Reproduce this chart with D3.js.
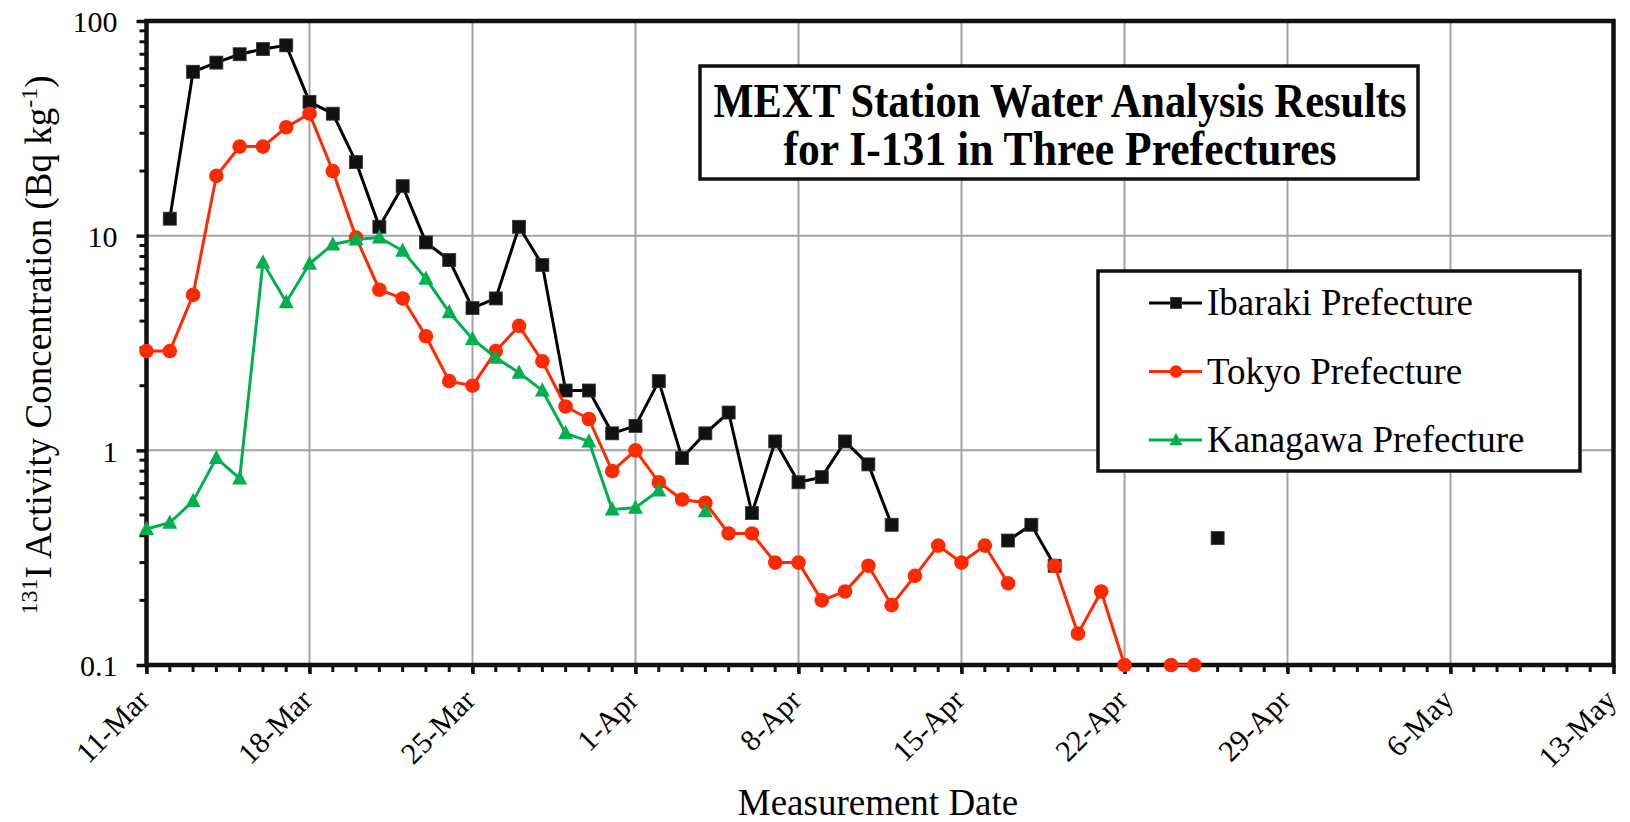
<!DOCTYPE html>
<html>
<head>
<meta charset="utf-8">
<script src="https://cdn.jsdelivr.net/npm/d3@7"></script>
<style>
  body { margin: 0; background: #fff; }
  svg { display: block; font-family: "Liberation Serif", "Times New Roman", serif; }
</style>
</head>
<body>
<div id="chart"></div>
<script>
// measurement days, 11-Mar .. 26-Apr 2011
var days = [
  "2011-03-11","2011-03-12","2011-03-13","2011-03-14","2011-03-15","2011-03-16","2011-03-17",
  "2011-03-18","2011-03-19","2011-03-20","2011-03-21","2011-03-22","2011-03-23","2011-03-24",
  "2011-03-25","2011-03-26","2011-03-27","2011-03-28","2011-03-29","2011-03-30","2011-03-31",
  "2011-04-01","2011-04-02","2011-04-03","2011-04-04","2011-04-05","2011-04-06","2011-04-07",
  "2011-04-08","2011-04-09","2011-04-10","2011-04-11","2011-04-12","2011-04-13","2011-04-14",
  "2011-04-15","2011-04-16","2011-04-17","2011-04-18","2011-04-19","2011-04-20","2011-04-21",
  "2011-04-22","2011-04-23","2011-04-24","2011-04-25","2011-04-26"
];

var ibaraki = [
  null, 12, 58, 64, 70, 74, 77,
  42, 37, 22, 11, 17, 9.3, 7.7,
  4.6, 5.1, 11, 7.3, 1.9, 1.9, 1.2,
  1.3, 2.1, 0.92, 1.2, 1.5, 0.51, 1.1,
  0.71, 0.75, 1.1, 0.86, 0.45, null, null,
  null, null, 0.38, 0.45, 0.29, null, null,
  null, null, null, null, 0.39
];

var tokyo = [
  2.9, 2.9, 5.3, 19, 26, 26, 32,
  37, 20, 9.8, 5.6, 5.1, 3.4, 2.1,
  2.0, 2.9, 3.8, 2.6, 1.6, 1.4, 0.8,
  1.0, 0.71, 0.59, 0.57, 0.41, 0.41, 0.30,
  0.30, 0.20, 0.22, 0.29, 0.19, 0.26, 0.36,
  0.30, 0.36, 0.24, null, 0.29, 0.14, 0.22,
  0.1, null, 0.1, 0.1, null
];

var kanagawa = [
  0.43, 0.46, 0.58, 0.92, 0.74, 7.5, 4.9,
  7.4, 9.1, 9.6, 9.8, 8.5, 6.3, 4.4,
  3.3, 2.7, 2.3, 1.9, 1.2, 1.1, 0.53,
  0.54, 0.65, null, 0.52, null, null, null,
  null, null, null, null, null, null, null,
  null, null, null, null, null, null, null,
  null, null, null, null, null
];

var seriesNames = ["Ibaraki Prefecture", "Tokyo Prefecture", "Kanagawa Prefecture"];
var xTicks = ["2011-03-11","2011-03-18","2011-03-25","2011-04-01","2011-04-08",
              "2011-04-15","2011-04-22","2011-04-29","2011-05-06","2011-05-13"];
var yTicks = [0.1, 1, 10, 100];
var titleLines = ["MEXT Station Water Analysis Results", "for I-131 in Three Prefectures"];

function chart() {
    var width = 1630, height = 822;
    var pLeft = 146.5, pRight = 1613.5, pTop = 21, pBottom = 665;

    var parse = d3.utcParse("%Y-%m-%d");

    var svg = d3.select("#chart").append("svg")
        .attr("width", width)
        .attr("height", height);

    var x = d3.scaleUtc()
        .domain([parse(xTicks[0]), parse(xTicks[xTicks.length - 1])])
        .range([pLeft, pRight]);

    var y = d3.scaleLog()
        .domain([0.1, 100])
        .range([pBottom, pTop]);

    // gridlines
    svg.append("g")
        .selectAll("line")
        .data(xTicks.slice(1, -1))
        .enter().append("line")
        .attr("x1", function(d) { return x(parse(d)) })
        .attr("x2", function(d) { return x(parse(d)) })
        .attr("y1", pTop).attr("y2", pBottom)
        .attr("stroke", "#a3a3a3").attr("stroke-width", 2)

    svg.append("g")
        .selectAll("line")
        .data(yTicks.slice(1, -1))
        .enter().append("line")
        .attr("x1", pLeft).attr("x2", pRight)
        .attr("y1", function(d) { return y(d) })
        .attr("y2", function(d) { return y(d) })
        .attr("stroke", "#a3a3a3").attr("stroke-width", 2)

    // minor ticks
    var minorDays = d3.utcDay.range(x.domain()[0], x.domain()[1]);
    svg.append("g")
        .selectAll("line")
        .data(minorDays)
        .enter().append("line")
        .attr("x1", function(d) { return x(d) })
        .attr("x2", function(d) { return x(d) })
        .attr("y1", pBottom).attr("y2", pBottom + 7)
        .attr("stroke", "#111").attr("stroke-width", 3)

    var minorY = [];
    [0.1, 1, 10].forEach(function(dec) {
        for (var k = 2; k <= 9; k++) minorY.push(dec * k);
    });
    svg.append("g")
        .selectAll("line")
        .data(minorY)
        .enter().append("line")
        .attr("x1", pLeft - 7).attr("x2", pLeft)
        .attr("y1", function(d) { return y(d) })
        .attr("y2", function(d) { return y(d) })
        .attr("stroke", "#111").attr("stroke-width", 3)

    // axes
    var xAxis = svg.append("g")
        .attr("transform", "translate(0," + pBottom + ")")
        .call(d3.axisBottom(x)
            .tickValues(xTicks.map(parse))
            .tickSize(9)
            .tickFormat(d3.utcFormat("%-d-%b")));
    xAxis.attr("font-family", null).attr("font-size", 30);
    xAxis.select(".domain").remove();
    xAxis.selectAll(".tick line").attr("stroke", "#111").attr("stroke-width", 3.5);
    xAxis.selectAll(".tick text")
        .attr("fill", "#000")
        .attr("text-anchor", "end")
        .attr("y", 0).attr("dy", 0)
        .attr("transform", "translate(4,37) rotate(-45)");

    var yAxis = svg.append("g")
        .attr("transform", "translate(" + pLeft + ",0)")
        .call(d3.axisLeft(y)
            .tickValues(yTicks)
            .tickSize(10)
            .tickFormat(function(d) { return String(d) }));
    yAxis.attr("font-family", null).attr("font-size", 30);
    yAxis.select(".domain").remove();
    yAxis.selectAll(".tick line").attr("stroke", "#111").attr("stroke-width", 3.5);
    yAxis.selectAll(".tick text")
        .attr("fill", "#000")
        .attr("x", -29)
        .attr("dy", "0.36em");

    // plot frame
    svg.append("rect")
        .attr("x", pLeft).attr("y", pTop)
        .attr("width", pRight - pLeft).attr("height", pBottom - pTop)
        .attr("fill", "none")
        .attr("stroke", "#111")
        .attr("stroke-width", 4.5)

    // axis titles
    svg.append("text")
        .attr("x", 878).attr("y", 815)
        .attr("text-anchor", "middle")
        .attr("font-size", 37)
        .text("Measurement Date")

    var yl = svg.append("text")
        .attr("transform", "translate(51,345) rotate(-90)")
        .attr("text-anchor", "middle")
        .attr("font-size", 37)
    yl.append("tspan").attr("font-size", 24).attr("dy", -14).text("131")
    yl.append("tspan").attr("dy", 14).text("I Activity Concentration (Bq kg")
    yl.append("tspan").attr("font-size", 24).attr("dy", -14).text("-1")
    yl.append("tspan").attr("dy", 14).text(")")

    // title box
    svg.append("rect")
        .attr("x", 700).attr("y", 66)
        .attr("width", 718).attr("height", 113)
        .attr("fill", "#fff")
        .attr("stroke", "#111")
        .attr("stroke-width", 3.5)

    svg.selectAll("text.title")
        .data(titleLines)
        .enter().append("text")
        .attr("class", "title")
        .attr("x", 1060)
        .attr("y", function(d, i) { return 117 + i * 48 })
        .attr("text-anchor", "middle")
        .attr("font-size", 48)
        .attr("font-weight", "bold")
        .attr("textLength", function(d, i) { return i === 0 ? 693 : 553 })
        .attr("lengthAdjust", "spacingAndGlyphs")
        .text(function(d) { return d })

    // series
    var colors = ["#000000", "#ff2a00", "#00b050"];
    var allSeries = [ibaraki, tokyo, kanagawa];

    var line = d3.line()
        .defined(function(d) { return d.v != null })
        .x(function(d) { return x(d.date) })
        .y(function(d) { return y(d.v) });

    function marker(g, i, size) {
        if (i === 0) {
            g.append("rect")
                .attr("x", -size / 2).attr("y", -size / 2)
                .attr("width", size).attr("height", size)
                .attr("fill", "#111").attr("stroke", "#333").attr("stroke-width", 0.8)
        } else if (i === 1) {
            g.append("circle").attr("r", size / 2 + 0.8).attr("fill", colors[1])
        } else {
            var s = size + 2;
            g.append("path")
                .attr("d", "M0," + (-s * 0.55) + "L" + (s / 2) + "," + (s * 0.4) + "L" + (-s / 2) + "," + (s * 0.4) + "Z")
                .attr("fill", colors[2])
        }
    }

    allSeries.forEach(function(vals, i) {
        var pts = days.map(function(d, j) { return { date: parse(d), v: vals[j] } });
        var g = svg.append("g");
        g.append("path")
            .datum(pts)
            .attr("d", line)
            .attr("fill", "none")
            .attr("stroke", colors[i])
            .attr("stroke-width", 3)
        g.selectAll("g")
            .data(pts.filter(function(p) { return p.v != null }))
            .enter().append("g")
            .attr("transform", function(p) { return "translate(" + x(p.date) + "," + y(p.v) + ")" })
            .each(function() { marker(d3.select(this), i, 13) })
    });

    // legend
    var lg = svg.append("g");
    lg.append("rect")
        .attr("x", 1098).attr("y", 271)
        .attr("width", 482).attr("height", 200)
        .attr("fill", "#fff")
        .attr("stroke", "#111")
        .attr("stroke-width", 3.5)

    var rows = lg.selectAll("g.row")
        .data(seriesNames)
        .enter().append("g")
        .attr("class", "row")
        .attr("transform", function(d, i) { return "translate(0," + (303 + i * 68.5) + ")" })

    rows.append("line")
        .attr("x1", 1149).attr("x2", 1202)
        .attr("stroke", function(d, i) { return colors[i] })
        .attr("stroke-width", 3)
    rows.each(function(d, i) {
        var m = d3.select(this).append("g").attr("transform", "translate(1176,0)");
        marker(m, i, 11);
    })
    rows.append("text")
        .attr("x", 1207).attr("y", 0)
        .attr("dy", "0.33em")
        .attr("font-size", 37)
        .text(function(d) { return d })
}
chart();
</script>
</body>
</html>
